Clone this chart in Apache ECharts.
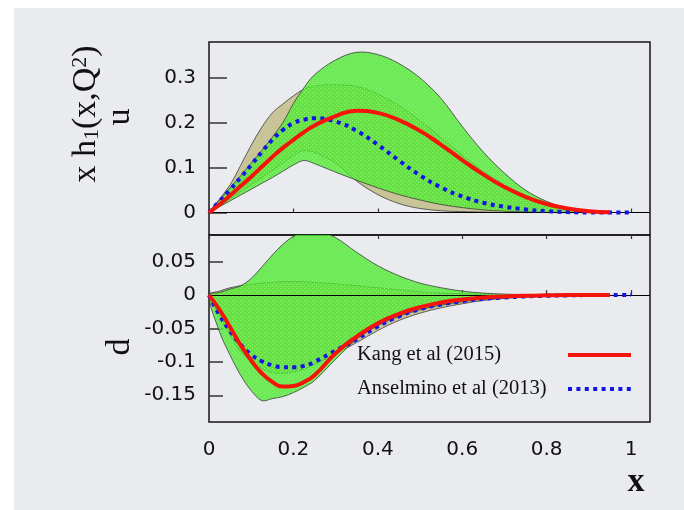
<!DOCTYPE html>
<html>
<head>
<meta charset="utf-8">
<script src="https://cdn.jsdelivr.net/npm/echarts@6/dist/echarts.min.js"></script>
<style>
  html, body { margin: 0; padding: 0; background: #ffffff; }
  #chart { width: 684px; height: 510px; }
</style>
</head>
<body>
<div id="chart"></div>
<script>
// x grid shared by the bands and the Kang et al curves
const xGrid = [0, 0.025, 0.05, 0.075, 0.1, 0.125, 0.15, 0.175, 0.2, 0.225, 0.25,
  0.3, 0.35, 0.4, 0.45, 0.5, 0.55, 0.6, 0.65, 0.7, 0.75, 0.8, 0.85, 0.9, 0.95];
// the Anselmino et al curves run one step further
const xGridLong = xGrid.concat([1.0]);

// ---- u quark: x h1(x,Q^2) ----
const kangU = [0, 0.018, 0.038, 0.059, 0.08, 0.102, 0.124, 0.144, 0.162, 0.179, 0.194,
  0.215, 0.227, 0.222, 0.206, 0.182, 0.151, 0.117, 0.085, 0.057, 0.035, 0.019, 0.009, 0.003, 0.0005];
const anselU = [0, 0.025, 0.051, 0.078, 0.106, 0.135, 0.162, 0.184, 0.199, 0.207, 0.21,
  0.203, 0.182, 0.151, 0.116, 0.083, 0.056, 0.036, 0.022, 0.013, 0.007, 0.003, 0.001, 0, 0, 0];
const kangUHi = [0, 0.027, 0.055, 0.082, 0.11, 0.138, 0.168, 0.2, 0.243, 0.278, 0.307,
  0.34, 0.357, 0.352, 0.332, 0.3, 0.254, 0.192, 0.135, 0.088, 0.05, 0.025, 0.01, 0.003, 0.001];
const kangULo = [0, 0.013, 0.026, 0.039, 0.052, 0.065, 0.078, 0.092, 0.106, 0.116, 0.109,
  0.09, 0.072, 0.055, 0.04, 0.028, 0.018, 0.011, 0.006, 0.003, 0.0015, 0.0005, 0, 0, 0];
const anselUHi = [0, 0.03, 0.062, 0.105, 0.15, 0.19, 0.222, 0.242, 0.26, 0.275, 0.282,
  0.285, 0.281, 0.264, 0.238, 0.205, 0.167, 0.128, 0.092, 0.062, 0.038, 0.02, 0.009, 0.003, 0.001];
const anselULo = [0, 0.015, 0.03, 0.046, 0.062, 0.078, 0.094, 0.11, 0.127, 0.138, 0.134,
  0.11, 0.07, 0.04, 0.02, 0.009, 0.004, 0.002, 0.001, 0, 0, 0, 0, 0, 0];

// ---- d quark ----
const kangD = [0, -0.022, -0.048, -0.075, -0.098, -0.117, -0.13, -0.137, -0.136, -0.13, -0.12,
  -0.087, -0.062, -0.042, -0.028, -0.018, -0.011, -0.0065, -0.0035, -0.002, -0.001, -0.0004, 0, 0, 0];
const anselD = [0, -0.03, -0.054, -0.074, -0.089, -0.099, -0.105, -0.108, -0.108, -0.106, -0.1,
  -0.083, -0.066, -0.047, -0.032, -0.021, -0.014, -0.009, -0.0055, -0.0035, -0.002, -0.001, -0.0005, 0, 0, 0];
const kangDHi = [0, 0.004, 0.009, 0.014, 0.025, 0.042, 0.06, 0.076, 0.088, 0.095, 0.098,
  0.086, 0.064, 0.044, 0.029, 0.018, 0.011, 0.006, 0.003, 0.0015, 0.0007, 0.0003, 0, 0, 0];
const kangDLo = [0, -0.055, -0.09, -0.12, -0.143, -0.158, -0.155, -0.152, -0.146, -0.138, -0.128,
  -0.096, -0.066, -0.046, -0.032, -0.022, -0.015, -0.01, -0.006, -0.004, -0.002, -0.001, 0, 0, 0];
const anselDHi = [0, 0.006, 0.011, 0.014, 0.016, 0.018, 0.019, 0.02, 0.02, 0.02, 0.019,
  0.017, 0.014, 0.011, 0.008, 0.005, 0.003, 0.002, 0.001, 0.0005, 0, 0, 0, 0, 0];
const anselDLo = [0, -0.03, -0.06, -0.085, -0.1, -0.11, -0.116, -0.117, -0.115, -0.111, -0.104,
  -0.088, -0.071, -0.053, -0.038, -0.027, -0.019, -0.013, -0.008, -0.005, -0.003, -0.0015, -0.0005, 0, 0];

// axis ticks
const xTicks = [0, 0.2, 0.4, 0.6, 0.8, 1];
const uTicks = [0, 0.1, 0.2, 0.3];
const dTicks = [-0.15, -0.1, -0.05, 0, 0.05];

const kangName = 'Kang et al (2015)';
const anselName = 'Anselmino et al (2013)';

const RED = '#f5140c';
const BLUE = '#1414e6';
const TAN = '#c8c497';
const TICK_FONT = 'DejaVu Sans';
const SERIF = 'Liberation Serif';

// translucent green fill with a faint lighter dot texture
function greenPattern() {
  const c = document.createElement('canvas');
  c.width = 4; c.height = 4;
  const g = c.getContext('2d');
  g.fillStyle = 'rgba(70, 234, 42, 0.78)';
  g.fillRect(0, 0, 4, 4);
  g.fillStyle = 'rgba(150, 246, 120, 0.85)';
  g.fillRect(0, 0, 1, 1);
  g.fillRect(2, 2, 1, 1);
  return { image: c, repeat: 'repeat' };
}
const GREEN = greenPattern();

function zip(xs, ys) { return ys.map((y, i) => [xs[i], y]); }

// filled uncertainty band between lo and hi, built as a closed polygon
function band(name, axisIdx, xs, lo, hi, fill, z, withZeroLine) {
  const s = {
    type: 'custom', name: name, xAxisIndex: axisIdx, yAxisIndex: axisIdx,
    clip: true, z: z, silent: true,
    data: xs.map((x, i) => [x, lo[i], hi[i]]),
    encode: { x: 0, y: [1, 2] },
    renderItem: function (params, api) {
      if (params.dataIndex !== 0) return null;
      const pts = [];
      for (let i = 0; i < xs.length; i++) pts.push(api.coord([xs[i], hi[i]]));
      for (let i = xs.length - 1; i >= 1; i--) pts.push(api.coord([xs[i], lo[i]]));
      return {
        type: 'polygon',
        shape: { points: pts, smooth: 0.35 },
        style: { fill: fill, stroke: '#3c3c3c', lineWidth: 0.8 }
      };
    }
  };
  if (withZeroLine) {
    s.markLine = {
      silent: true, symbol: 'none', animation: false,
      label: { show: false },
      lineStyle: { color: '#000', width: 1, type: 'solid' },
      data: [{ yAxis: 0 }]
    };
  }
  return s;
}

function curve(name, axisIdx, xs, ys, style) {
  return {
    type: 'line', name: name, xAxisIndex: axisIdx, yAxisIndex: axisIdx,
    data: zip(xs, ys), showSymbol: false, symbol: 'none',
    smooth: 0.5, z: 8, silent: true,
    lineStyle: style
  };
}

const redStyle = { color: RED, width: 4 };
const blueStyle = { color: BLUE, width: 4, type: [4, 4.4], cap: 'butt' };

function yAxisDef(grid, min, max, ticks, tickLen) {
  return {
    type: 'value', gridIndex: grid, min: min, max: max,
    axisLine: { show: false },
    splitLine: { show: false },
    axisTick: { show: true, inside: true, length: tickLen, customValues: ticks,
      lineStyle: { color: '#333', width: 1.5 } },
    axisLabel: { show: true, customValues: ticks, margin: 13,
      fontFamily: TICK_FONT, fontSize: 20, color: '#111' }
  };
}

function xAxisDef(grid, position, showLabels, tickLen) {
  return {
    type: 'value', gridIndex: grid, position: position,
    min: 0, max: 1.045,
    axisLine: { show: false },
    splitLine: { show: false },
    axisTick: { show: true, inside: true, length: tickLen, customValues: xTicks,
      lineStyle: { color: '#333', width: 1.2 } },
    axisLabel: { show: showLabels, customValues: xTicks, margin: 18,
      fontFamily: TICK_FONT, fontSize: 20, color: '#111' }
  };
}

const chart = echarts.init(document.getElementById('chart'), null, { renderer: 'canvas' });

chart.setOption({
  animation: false,
  backgroundColor: '#e9ebee',
  grid: [
    { left: 209, top: 42, width: 441, height: 193, show: true,
      borderColor: '#161616', borderWidth: 1.5, backgroundColor: 'transparent' },
    { left: 209, top: 235, width: 441, height: 187, show: true,
      borderColor: '#161616', borderWidth: 1.5, backgroundColor: 'transparent' }
  ],
  xAxis: [
    xAxisDef(0, 'bottom', false, 4),
    xAxisDef(1, 'bottom', true, 5),
    xAxisDef(1, 'top', false, 4)
  ],
  yAxis: [
    yAxisDef(0, -0.05, 0.38, uTicks, 18),
    yAxisDef(1, -0.19, 0.09, dTicks, 14)
  ],
  series: [
    band(anselName + ' band', 0, xGrid, anselULo, anselUHi, TAN, 2, false),
    band(kangName + ' band', 0, xGrid, kangULo, kangUHi, GREEN, 3, true),
    band(anselName + ' band', 1, xGrid, anselDLo, anselDHi, TAN, 2, false),
    band(kangName + ' band', 1, xGrid, kangDLo, kangDHi, GREEN, 3, true),
    curve(anselName, 0, xGridLong, anselU, blueStyle),
    curve(kangName, 0, xGrid, kangU, redStyle),
    curve(anselName, 1, xGridLong, anselD, blueStyle),
    curve(kangName, 1, xGrid, kangD, redStyle)
  ],
  graphic: [
    // white page margin on the left and top
    { type: 'rect', shape: { x: 0, y: 0, width: 14, height: 510 }, style: { fill: '#ffffff' }, silent: true },
    { type: 'rect', shape: { x: 0, y: 0, width: 684, height: 8 }, style: { fill: '#ffffff' }, silent: true },
    // y axis title of the upper panel
    {
      type: 'text', x: 86, y: 114, rotation: Math.PI / 2, silent: true,
      style: {
        text: '{m|x h}{s|1}{m|(x,Q}{p|2}{m|)}',
        align: 'center', verticalAlign: 'middle', fill: '#111',
        rich: {
          m: { fontFamily: SERIF, fontSize: 34, lineHeight: 34, fill: '#111' },
          s: { fontFamily: SERIF, fontSize: 22, lineHeight: 8, verticalAlign: 'bottom', fill: '#111' },
          p: { fontFamily: SERIF, fontSize: 22, lineHeight: 8, verticalAlign: 'top', fill: '#111' }
        }
      }
    },
    { type: 'text', x: 120, y: 117, rotation: Math.PI / 2, silent: true,
      style: { text: 'u', fontFamily: SERIF, fontSize: 34, fill: '#111', align: 'center', verticalAlign: 'middle' } },
    { type: 'text', x: 120, y: 347, rotation: Math.PI / 2, silent: true,
      style: { text: 'd', fontFamily: SERIF, fontSize: 34, fill: '#111', align: 'center', verticalAlign: 'middle' } },
    { type: 'text', x: 636, y: 482, silent: true,
      style: { text: 'x', fontFamily: SERIF, fontWeight: 'bold', fontSize: 34, fill: '#111', align: 'center', verticalAlign: 'middle' } },
    // key
    { type: 'text', x: 357, y: 355, silent: true,
      style: { text: kangName, fontFamily: SERIF, fontSize: 20.5, fill: '#111', align: 'left', verticalAlign: 'middle' } },
    { type: 'line', shape: { x1: 568, y1: 355, x2: 631, y2: 355 }, silent: true,
      style: { stroke: RED, lineWidth: 4 } },
    { type: 'text', x: 357, y: 389, silent: true,
      style: { text: anselName, fontFamily: SERIF, fontSize: 20.5, fill: '#111', align: 'left', verticalAlign: 'middle' } },
    { type: 'line', shape: { x1: 568, y1: 389, x2: 632, y2: 389 }, silent: true,
      style: { stroke: BLUE, lineWidth: 4, lineDash: [4, 4.4], lineCap: 'butt' } }
  ]
});
</script>
</body>
</html>
